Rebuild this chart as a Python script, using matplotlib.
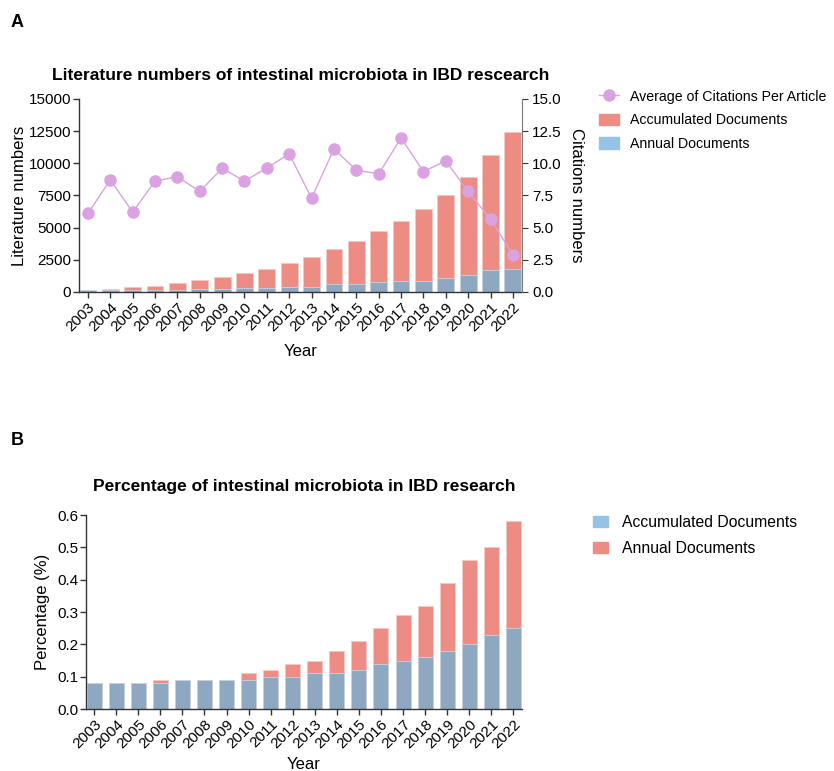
import numpy as np
import matplotlib
matplotlib.use("Agg")
import matplotlib.pyplot as plt
from matplotlib.patches import Patch
from matplotlib.lines import Line2D

plt.rcParams['font.family'] = ['Liberation Sans', 'DejaVu Sans']

years = [str(y) for y in range(2003, 2023)]

# panel A
accumulated = [100, 230, 360, 500, 700, 905, 1140, 1470, 1790, 2225, 2690, 3310, 3930, 4730,
               5540, 6420, 7560, 8930, 10640, 12440]
annual = [120, 130, 140, 150, 185, 205, 230, 310, 310, 370, 420, 600, 600, 750, 830, 840,
          1110, 1320, 1710, 1770]
citations = [6.10, 8.72, 6.21, 8.61, 8.97, 7.81, 9.62, 8.61, 9.65, 10.73, 7.29, 11.12, 9.47,
             9.18, 11.97, 9.36, 10.19, 7.81, 5.66, 2.90]

# panel B (percent)
pct_total = [0.08, 0.08, 0.08, 0.09, 0.09, 0.09, 0.09, 0.11, 0.12, 0.14, 0.15, 0.18, 0.21,
             0.25, 0.29, 0.32, 0.39, 0.46, 0.50, 0.58]
pct_base = [0.08, 0.08, 0.08, 0.08, 0.09, 0.09, 0.09, 0.09, 0.10, 0.10, 0.11, 0.11, 0.12,
            0.14, 0.15, 0.16, 0.18, 0.20, 0.23, 0.25]

red = '#ec8c82'
blue_bar = '#8fa8c2'
blue_leg = '#93c4e5'
purple = '#dba2e1'
spine_c = '#333333'

fig = plt.figure(figsize=(8.34, 7.71), dpi=100)
x = np.arange(len(years))


def style(ax):
    for s in ['top', 'right']:
        ax.spines[s].set_visible(False)
    for s in ['left', 'bottom']:
        ax.spines[s].set_color(spine_c)
        ax.spines[s].set_linewidth(1.0)
    ax.tick_params(axis='both', colors=spine_c, labelcolor='black', labelsize=11,
                   length=4, width=1.0)
    ax.tick_params(axis='y', pad=1.5)
    ax.set_xticks(x)
    ax.set_xticklabels(years, rotation=45, ha='right', rotation_mode='anchor')
    ax.tick_params(axis='x', pad=2)


# ---------- A ----------
ax = fig.add_axes([0.0947, 0.6213, 0.531, 0.2503])
ax.bar(x, accumulated, width=0.75, color=red, edgecolor='#f4c9c4', linewidth=0.6)
ax.bar(x, annual, width=0.75, color=blue_bar, edgecolor='#c9d4e0', linewidth=0.6)
ax.set_xlim(-0.4, 19.4)
ax.set_ylim(0, 15000)
ax.set_yticks(np.arange(0, 15001, 2500))
style(ax)
ax.set_ylabel('Literature numbers', fontsize=12, labelpad=1)
ax.set_xlabel('Year', fontsize=12, labelpad=7)
ax.set_title('Literature numbers of intestinal microbiota in IBD rescearch',
             fontsize=12.5, fontweight='bold', pad=14)

ax2 = ax.twinx()
ax2.plot(x, citations, color=purple, lw=1.0, marker='o', ms=8, mfc=purple, mec=purple)
ax2.set_ylim(0, 15)
ax2.set_yticks(np.arange(0, 15.1, 2.5))
ax2.set_yticklabels(['%.1f' % v for v in np.arange(0, 15.1, 2.5)])
for s in ['top', 'left', 'bottom']:
    ax2.spines[s].set_visible(False)
ax2.spines['right'].set_color('#777777')
ax2.tick_params(axis='y', colors=spine_c, labelcolor='black', labelsize=11, length=4)
ax2.set_ylabel('Citations numbers', fontsize=12, rotation=270, labelpad=16)

hA = [Line2D([0], [0], color=purple, lw=1.0, marker='o', ms=8),
      Patch(color=red), Patch(color=blue_leg)]
fig.legend(hA, ['Average of Citations Per Article', 'Accumulated Documents', 'Annual Documents'],
           loc='upper left', bbox_to_anchor=(0.703, 0.900), frameon=False, fontsize=10.2,
           handlelength=1.4, handleheight=0.9, labelspacing=0.67, handletextpad=0.78)

fig.text(0.013, 0.965, 'A', fontsize=13, fontweight='bold')

# ---------- B ----------
bx = fig.add_axes([0.1031, 0.0804, 0.523, 0.2516])
bx.bar(x, pct_total, width=0.68, color=red, edgecolor='#f4c9c4', linewidth=0.6)
bx.bar(x, pct_base, width=0.68, color=blue_bar, edgecolor='#c9d4e0', linewidth=0.6)
bx.set_xlim(-0.37, 19.4)
bx.set_ylim(0, 0.6)
bx.set_yticks(np.arange(0, 0.61, 0.1))
bx.set_yticklabels(['%.1f' % v for v in np.arange(0, 0.61, 0.1)])
style(bx)
bx.set_ylabel('Percentage (%)', fontsize=12, labelpad=5)
bx.set_xlabel('Year', fontsize=12, labelpad=4)
bx.set_title('Percentage of intestinal microbiota in IBD research',
             fontsize=12.5, fontweight='bold', pad=17)

hB = [Patch(color=blue_leg), Patch(color=red)]
fig.legend(hB, ['Accumulated Documents', 'Annual Documents'],
           loc='upper left', bbox_to_anchor=(0.694, 0.350), frameon=False, fontsize=11.3,
           handlelength=0.95, handleheight=0.7, labelspacing=0.71, handletextpad=0.9)

fig.text(0.013, 0.423, 'B', fontsize=13, fontweight='bold')

fig.savefig('out.png', dpi=100)
